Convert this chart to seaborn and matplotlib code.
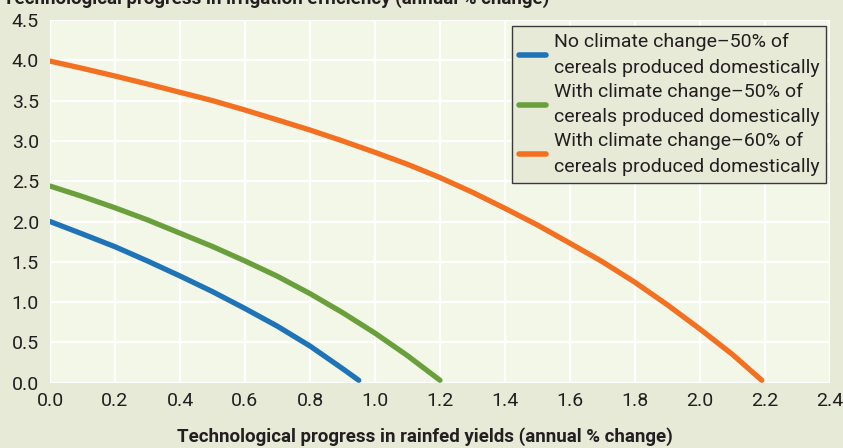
import numpy as np
import pandas as pd
import matplotlib
matplotlib.use("Agg")
import matplotlib.pyplot as plt
import seaborn as sns

# Data
blue_x = [0.0, 0.1, 0.2, 0.3, 0.4, 0.5, 0.6, 0.7, 0.8, 0.9, 0.95]
blue_y = [2.0, 1.845, 1.687, 1.51, 1.324, 1.13, 0.92, 0.70, 0.455, 0.175, 0.03]
green_x = [0.0, 0.1, 0.2, 0.3, 0.4, 0.5, 0.6, 0.7, 0.8, 0.9, 1.0, 1.1, 1.2]
green_y = [2.44, 2.31, 2.17, 2.02, 1.855, 1.69, 1.51, 1.32, 1.105, 0.87, 0.615, 0.335, 0.03]
orange_x = [0.0, 0.1, 0.2, 0.3, 0.4, 0.5, 0.6, 0.7, 0.8, 0.9, 1.0, 1.1, 1.2,
            1.3, 1.4, 1.5, 1.6, 1.7, 1.8, 1.9, 2.0, 2.1, 2.19]
orange_y = [3.99, 3.90, 3.805, 3.706, 3.603, 3.50, 3.383, 3.26, 3.135, 3.0, 2.858, 2.71, 2.545,
            2.362, 2.163, 1.956, 1.73, 1.50, 1.245, 0.965, 0.665, 0.35, 0.03]

labels = ["No climate change\u201350% of\ncereals produced domestically",
          "With climate change\u201350% of\ncereals produced domestically",
          "With climate change\u201360% of\ncereals produced domestically"]
colors = ["#1f73b7", "#6aa03c", "#f37021"]
x_ticks = [0.0, 0.2, 0.4, 0.6, 0.8, 1.0, 1.2, 1.4, 1.6, 1.8, 2.0, 2.2, 2.4]
y_ticks = [0.0, 0.5, 1.0, 1.5, 2.0, 2.5, 3.0, 3.5, 4.0, 4.5]

frames = []
for lab, xs, ys in zip(labels, [blue_x, green_x, orange_x], [blue_y, green_y, orange_y]):
    frames.append(pd.DataFrame({"x": xs, "y": ys, "series": lab}))
df = pd.concat(frames, ignore_index=True)

sns.set_theme(style="white")
plt.rcParams['font.family'] = ['Roboto', 'DejaVu Sans']

outer_bg = "#e8ead8"
plot_bg = "#f3f7e7"
text_col = "#231f20"

fig = plt.figure(figsize=(8.43, 4.48), dpi=100, facecolor=outer_bg)
ax = fig.add_axes([50/843, 1 - 382.7/448, 780/843, (382.7 - 20)/448])
ax.set_facecolor(plot_bg)

sns.lineplot(data=df, x="x", y="y", hue="series", palette=colors, sort=False,
             linewidth=3.8, ax=ax, legend=True)
for ln in ax.lines:
    ln.set_solid_capstyle("round")
    ln.set_solid_joinstyle("round")

ax.set_xlim(0, 2.4)
ax.set_ylim(0, 4.5)
ax.set_xticks(x_ticks)
ax.set_yticks(y_ticks)
ax.set_xticklabels([f"{v:.1f}" for v in x_ticks])
ax.set_yticklabels([f"{v:.1f}" for v in y_ticks])
ax.tick_params(axis="both", length=0, labelsize=14, colors=text_col)
ax.tick_params(axis="x", pad=7)
ax.tick_params(axis="y", pad=8)
ax.grid(True, color="white", linewidth=1.6)
ax.set_axisbelow(True)
for s in ax.spines.values():
    s.set_visible(False)
ax.set_xlabel("")
ax.set_ylabel("")

leg = ax.legend(loc="upper right", bbox_to_anchor=(826/843, 1 - 26/448),
                bbox_transform=fig.transFigure, fontsize=14, handlelength=1.4,
                handletextpad=0.4, borderpad=0.35, labelspacing=0.3,
                frameon=True, fancybox=False, borderaxespad=0)
frame = leg.get_frame()
frame.set_facecolor(outer_bg)
frame.set_edgecolor("#3a3a3a")
frame.set_linewidth(1.0)
frame.set_alpha(1)
for t in leg.get_texts():
    t.set_color(text_col)
    t.set_linespacing(1.55)
for h in leg.get_lines():
    h.set_linewidth(4)
    h.set_solid_capstyle("round")

fig.text(425/843, 1 - 437/448, "Technological progress in rainfed yields (annual % change)",
         ha="center", va="center", fontsize=13.5, fontweight="bold", color=text_col)
fig.text(3/843, 1 - 4/448, "Technological progress in irrigation efficiency (annual % change)",
         ha="left", va="baseline", fontsize=13.5, fontweight="bold", color=text_col)

fig.savefig("out.png", dpi=100, facecolor=outer_bg)
